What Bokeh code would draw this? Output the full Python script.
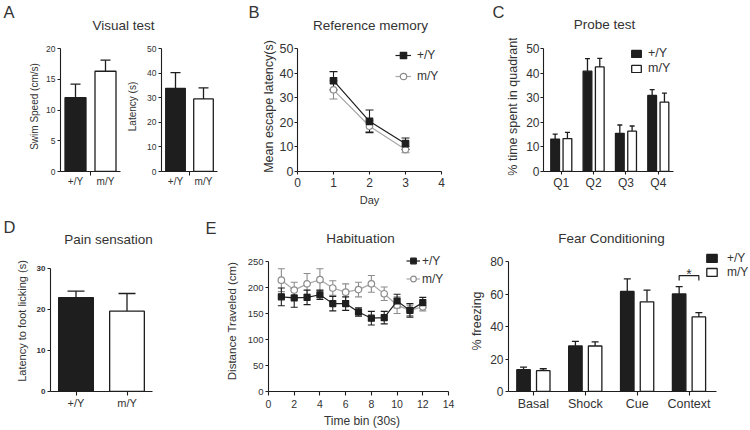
from bokeh.plotting import figure
from bokeh.layouts import row, column
from bokeh.models import (Range1d, FixedTicker, Whisker, TeeHead, ColumnDataSource,
                          Legend, LegendItem)
from bokeh.embed import file_html
from bokeh.resources import INLINE
from bokeh.core.properties import value

FONT = "Liberation Sans"
TXT = "#333333"
AXC = "#1e1e1e"
GRAY_LINE = "#a8a8a8"
GRAY_MARK = "#8c8c8c"
W = 750

# ---------------- data ----------------
genotypes = ["+/Y", "m/Y"]
swim_speed = [12.0, 16.3]
swim_speed_sem = [2.2, 1.8]
visual_latency = [33.8, 29.5]
visual_latency_sem = [6.4, 4.5]

days = [1, 2, 3]
refmem_wt = [36.9, 20.4, 11.3]
refmem_wt_sem = [3.7, 4.6, 2.3]
refmem_mut = [33.2, 18.4, 8.9]
refmem_mut_sem = [3.7, 2.2, 1.3]

quadrants = ["Q1", "Q2", "Q3", "Q4"]
probe_wt = [13.2, 40.8, 15.5, 30.9]
probe_wt_sem = [2.0, 5.1, 3.4, 2.4]
probe_mut = [13.4, 42.5, 16.4, 28.2]
probe_mut_sem = [2.5, 3.5, 2.1, 3.7]

pain_latency = [22.9, 19.6]
pain_latency_sem = [1.6, 4.3]

time_bins = [1, 2, 3, 4, 5, 6, 7, 8, 9, 10, 11, 12]
habit_wt = [182, 180, 181, 186, 169, 169, 153, 141, 142, 174, 156, 171]
habit_wt_sem = [17, 18, 14, 9, 14, 13, 8, 13, 12, 13, 13, 10]
habit_mut = [214, 195, 207, 215, 199, 191, 196, 207, 188, 166, 156, 163]
habit_mut_sem = [22, 15, 20, 21, 14, 16, 14, 16, 13, 16, 10, 8]

fear_phases = ["Basal", "Shock", "Cue", "Context"]
fear_wt = [13.4, 28.0, 61.6, 60.0]
fear_wt_sem = [1.6, 2.8, 7.7, 4.5]
fear_mut = [12.8, 28.0, 55.2, 45.9]
fear_mut_sem = [1.2, 2.6, 7.2, 2.7]
fear_sig = ["", "", "", "*"]

top_letters = ["A", "B", "C"]
top_titles = ["Visual test", "Reference memory", "Probe test"]
bottom_letters = ["D", "E"]
bottom_titles = ["Pain sensation", "Habituation", "Fear Conditioning"]

# row geometry (page px): every figure of a row shares the same frame top / bottom
TOP_Y0, TOP_H, TOP_FRAME_TOP = 38, 172, 41
BOT_Y0, BOT_H, BOT_FRAME_TOP = 248, 182, 250


# ---------------- helpers ----------------
def make_panel(x0, w, y0, h, L, R, T, B, xr, yr, frame_right=None, frame_top=None):
    """Figure occupying page box (x0, y0, w, h); axes span L..R / T..B (page px).
    The plotting frame may reach further right/up (for legends); axes stay bounded."""
    fr = frame_right if frame_right is not None else R
    ft = frame_top if frame_top is not None else T
    x_end = xr[1] + (fr - R) / (R - L) * (xr[1] - xr[0])
    y_end = yr[1] + (T - ft) / (B - T) * (yr[1] - yr[0])
    p = figure(width=w, height=h, x_range=Range1d(xr[0], x_end), y_range=Range1d(yr[0], y_end),
               min_border_left=L - x0, min_border_right=x0 + w - fr,
               min_border_top=ft - y0, min_border_bottom=y0 + h - B,
               toolbar_location=None, output_backend="svg", title=None)
    p.xgrid.visible = False
    p.ygrid.visible = False
    p.outline_line_color = None
    p.xaxis.bounds = xr
    p.yaxis.bounds = yr
    return p


def style_axis(ax, ticks, tick_size, label=None, label_size=11, label_standoff=3,
               tick_out=3, major_standoff=2, bold=False, overrides=None, minor=None,
               minor_out=0):
    ax.ticker = FixedTicker(ticks=ticks, minor_ticks=minor or [])
    ax.axis_line_color = AXC
    ax.axis_line_width = 1.1
    ax.major_tick_line_color = AXC
    ax.major_tick_line_width = 1.1
    ax.major_tick_out = tick_out
    ax.major_tick_in = 0
    ax.minor_tick_in = 0
    ax.minor_tick_out = minor_out
    ax.minor_tick_line_color = AXC if minor_out else None
    ax.major_label_text_font = FONT
    ax.major_label_text_font_size = f"{tick_size}px"
    ax.major_label_text_color = TXT
    ax.major_label_standoff = major_standoff
    if bold:
        ax.major_label_text_font_style = "bold"
    if overrides:
        ax.major_label_overrides = overrides
    if label:
        ax.axis_label = label
        ax.axis_label_text_font = FONT
        ax.axis_label_text_font_size = f"{label_size}px"
        ax.axis_label_text_font_style = "normal"
        ax.axis_label_text_color = TXT
        ax.axis_label_standoff = label_standoff


def bars(p, xs, tops, sems, width, fill, cap):
    src = ColumnDataSource(dict(x=xs, top=tops,
                                upper=[t + s for t, s in zip(tops, sems)]))
    r = p.vbar(x="x", top="top", bottom=0, width=width, source=src,
               fill_color=fill, line_color=AXC, line_width=1.3)
    p.add_layout(Whisker(source=src, base="x", lower="top", upper="upper",
                         line_color=AXC, line_width=1.3,
                         upper_head=TeeHead(size=cap, line_color=AXC, line_width=1.3),
                         lower_head=None))
    return r


def series(p, xs, ys, sems, color, marker, fill, mcolor, size, cap):
    src = ColumnDataSource(dict(x=xs, y=ys,
                                lo=[v - s for v, s in zip(ys, sems)],
                                hi=[v + s for v, s in zip(ys, sems)]))
    p.add_layout(Whisker(source=src, base="x", lower="lo", upper="hi",
                         line_color=mcolor, line_width=1.1,
                         upper_head=TeeHead(size=cap, line_color=mcolor, line_width=1.1),
                         lower_head=TeeHead(size=cap, line_color=mcolor, line_width=1.1)))
    ln = p.line("x", "y", source=src, line_color=color, line_width=1.2)
    sc = p.scatter("x", "y", source=src, marker=marker, size=size,
                   fill_color=fill, line_color=mcolor, line_width=1.2)
    return [ln, sc]


def add_legend(p, rends, loc, gw, gh, lh, font, standoff, spacing):
    p.add_layout(Legend(items=[LegendItem(label=g, renderers=r) for g, r in zip(genotypes, rends)],
                        location=loc, orientation="vertical",
                        glyph_width=gw, glyph_height=gh, label_height=lh, label_width=10,
                        label_standoff=standoff, spacing=spacing, padding=0, margin=0,
                        border_line_color=None, background_fill_alpha=0,
                        label_text_font=FONT, label_text_font_size=f"{font}px",
                        label_text_color=TXT))


def header(h, letters, letter_pos, titles, title_pos):
    p = figure(width=W, height=h, x_range=Range1d(0, W), y_range=Range1d(h, 0),
               min_border=0, x_axis_type=None, y_axis_type=None,
               toolbar_location=None, output_backend="svg", title=None)
    p.outline_line_color = None
    p.text(x=[q[0] for q in letter_pos], y=[q[1] for q in letter_pos], text=letters,
           text_font=value(FONT), text_font_size="16.5px", text_color=TXT,
           text_align="left", text_baseline="middle")
    p.text(x=[q[0] for q in title_pos], y=[q[1] for q in title_pos], text=titles,
           text_font=value(FONT), text_font_size="13.5px", text_color=TXT,
           text_align="center", text_baseline="middle")
    return p


idx2 = list(range(len(genotypes)))
idx4 = list(range(len(quadrants)))
geno_labels = {i: g for i, g in enumerate(genotypes)}

# ---------------- headers ----------------
head_top = header(TOP_Y0, top_letters, [(3, 11.5), (248, 11.5), (492, 11.5)],
                  top_titles, [(123, 25), (370, 25), (604, 24)])
head_bot = header(BOT_Y0 - TOP_Y0 - TOP_H, bottom_letters, [(3, 16.5), (205, 17.5)],
                  bottom_titles, [(108, 29), (360, 28), (611, 28)])

# ---------------- A1 : swim speed ----------------
a1 = make_panel(0, 124, TOP_Y0, TOP_H, 60, 120, 48, 171, (-0.5, 1.5), (0, 20),
                frame_top=TOP_FRAME_TOP)
bars(a1, [0], swim_speed[:1], swim_speed_sem[:1], 0.7, AXC, 10)
bars(a1, [1], swim_speed[1:], swim_speed_sem[1:], 0.7, "white", 10)
style_axis(a1.yaxis[0], [0, 5, 10, 15, 20], 8.5, "Swim Speed (cm/s)", 10, 3)
style_axis(a1.xaxis[0], idx2, 10, tick_out=0, major_standoff=0,
           overrides=geno_labels, minor=[0.5], minor_out=4)

# ---------------- A2 : latency ----------------
a2 = make_panel(124, 116, TOP_Y0, TOP_H, 157, 217, 48, 171, (-0.5, 1.5), (0, 50),
                frame_top=TOP_FRAME_TOP)
bars(a2, [0], visual_latency[:1], visual_latency_sem[:1], 0.7, AXC, 10)
bars(a2, [1], visual_latency[1:], visual_latency_sem[1:], 0.7, "white", 10)
style_axis(a2.yaxis[0], [0, 10, 20, 30, 40, 50], 8.5, "Latency (s)", 10, 6)
style_axis(a2.xaxis[0], idx2, 10, tick_out=0, major_standoff=0,
           overrides=geno_labels, minor=[0.5], minor_out=4)

# ---------------- B : reference memory ----------------
pb = make_panel(240, 235, TOP_Y0, TOP_H, 297, 441, 48, 171, (0, 4), (0, 50),
                frame_top=TOP_FRAME_TOP)
b_mut = series(pb, days, refmem_mut, refmem_mut_sem, GRAY_LINE, "circle", "white", GRAY_MARK, 6.5, 8)
b_wt = series(pb, days, refmem_wt, refmem_wt_sem, AXC, "square", AXC, AXC, 6.5, 8)
style_axis(pb.yaxis[0], [0, 10, 20, 30, 40, 50], 12.5, "Mean escape latency(s)", 12.5, 1,
           tick_out=3, major_standoff=1)
style_axis(pb.xaxis[0], [0, 1, 2, 3, 4], 12, "Day", 11, 4, tick_out=3, major_standoff=3)
add_legend(pb, [b_wt, b_mut], (98, 87), 16, 16, 16, 12, 6, 5)

# ---------------- C : probe test ----------------
pc = make_panel(475, 275, TOP_Y0, TOP_H, 543, 673, 48, 171, (-0.55, 3.47), (0, 50),
                frame_right=745, frame_top=TOP_FRAME_TOP)
c_wt = bars(pc, [i - 0.19 for i in idx4], probe_wt, probe_wt_sem, 0.27, AXC, 5)
c_mut = bars(pc, [i + 0.19 for i in idx4], probe_mut, probe_mut_sem, 0.27, "white", 5)
style_axis(pc.yaxis[0], [0, 10, 20, 30, 40, 50], 12, "% time spent in quadrant", 12.5, 3,
           tick_out=3, major_standoff=1)
style_axis(pc.xaxis[0], idx4, 12, tick_out=3, major_standoff=1,
           overrides={i: q for i, q in enumerate(quadrants)})
add_legend(pc, [[c_wt], [c_mut]], (87, 96), 12, 9, 14, 12.5, 6, 1)

# ---------------- D : pain sensation ----------------
pd_ = make_panel(0, 200, BOT_Y0, BOT_H, 50, 152, 268, 391, (-0.5, 1.5), (0, 30),
                 frame_top=BOT_FRAME_TOP)
bars(pd_, [0], pain_latency[:1], pain_latency_sem[:1], 0.68, AXC, 17)
bars(pd_, [1], pain_latency[1:], pain_latency_sem[1:], 0.68, "white", 17)
style_axis(pd_.yaxis[0], [0, 10, 20, 30], 8, "Latency to foot licking (s)", 11, 6,
           tick_out=3, major_standoff=2, bold=True)
style_axis(pd_.xaxis[0], idx2, 11, tick_out=4, major_standoff=1, overrides=geno_labels)

# ---------------- E1 : habituation ----------------
pe1 = make_panel(200, 258, BOT_Y0, BOT_H, 268, 448, 261, 391, (0, 14), (0, 250),
                 frame_right=455, frame_top=BOT_FRAME_TOP)
h_mut = series(pe1, time_bins, habit_mut, habit_mut_sem, GRAY_LINE, "circle", "white", GRAY_MARK, 6.5, 7)
h_wt = series(pe1, time_bins, habit_wt, habit_wt_sem, AXC, "square", AXC, AXC, 6, 7)
style_axis(pe1.yaxis[0], [0, 50, 100, 150, 200, 250], 9.5, "Distance Traveled (cm)", 11.5, 7,
           tick_out=3, major_standoff=2)
style_axis(pe1.xaxis[0], list(range(0, 15, 2)), 10.5, "Time bin (30s)", 12, 3,
           tick_out=4, major_standoff=4)
add_legend(pe1, [h_wt, h_mut], (138, 105), 14, 15, 15, 12, 2, 3)

# ---------------- E2 : fear conditioning ----------------
pe2 = make_panel(458, 292, BOT_Y0, BOT_H, 508, 716, 261, 391, (-0.48, 3.53), (0, 80),
                 frame_right=750, frame_top=BOT_FRAME_TOP)
f_wt = bars(pe2, [i - 0.19 for i in idx4], fear_wt, fear_wt_sem, 0.26, AXC, 7)
f_mut = bars(pe2, [i + 0.19 for i in idx4], fear_mut, fear_mut_sem, 0.26, "white", 7)
style_axis(pe2.yaxis[0], [0, 20, 40, 60, 80], 12, "% freezing", 12.5, 3,
           tick_out=3, major_standoff=2)
style_axis(pe2.xaxis[0], idx4, 12.5, tick_out=4, major_standoff=1,
           overrides={i: f for i, f in enumerate(fear_phases)})
for i, mark in enumerate(fear_sig):
    if mark:
        top = max(fear_wt[i] + fear_wt_sem[i], fear_mut[i] + fear_mut_sem[i]) + 6.8
        pe2.line([i - 0.19, i - 0.19, i + 0.19, i + 0.19], [top - 3, top, top, top - 3],
                 line_color=AXC, line_width=1.2)
        pe2.text(x=[i], y=[top + 1.0], text=[mark], text_font=value(FONT),
                 text_font_size="14px", text_color=TXT, text_align="center",
                 text_baseline="alphabetic")
add_legend(pe2, [[f_wt], [f_mut]], (197, 112), 13, 10, 14, 12, 9, 0)

# ---------------- layout ----------------
layout = column(head_top, row(a1, a2, pb, pc), head_bot, row(pd_, pe1, pe2))

open("out.html", "w").write(file_html(layout, INLINE))
